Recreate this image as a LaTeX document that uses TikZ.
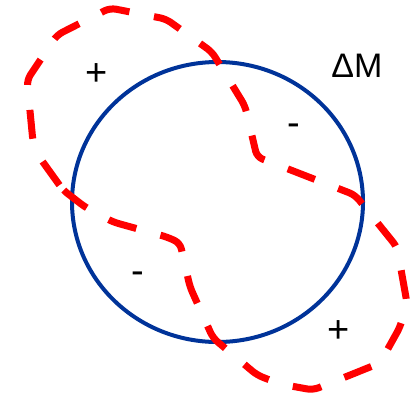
\documentclass[tikz,border=0pt]{standalone}
\usepackage{fontspec}
\setmainfont{Liberation Sans}
\definecolor{ringblue}{RGB}{0,51,153}
\definecolor{loopred}{RGB}{255,0,0}
\tikzset{
  ring/.style={draw=ringblue,line width=4pt},
  redloop/.style={draw=loopred,line width=7pt,dash pattern=on 29pt off 25pt,rounded corners=6pt},
  sign/.style={font=\fontsize{38}{38}\selectfont,inner sep=0pt}
}
\begin{document}
\begin{tikzpicture}[x=1pt,y=-1pt]
\useasboundingbox (0,0) rectangle (417,392);
\draw[ring] (217.5,202) ellipse [x radius=145.5, y radius=140];
\draw[redloop] (63,190) -- (40,158) -- (33,142) -- (27,80) -- (57,35) -- (110,8) -- (166,19) -- (212,52) -- (245,106) -- (257,157) -- (283,167) -- (355,195) -- (397,247) -- (407,303) -- (400,327) -- (380,363) -- (313,390) -- (280,384) -- (257,375) -- (213,338) -- (190,287) -- (180,243) -- (167,237) -- (113,222) -- (85,207) -- cycle;
\node[sign] (p1) at (97,75) {+};
\node[sign] (m1) at (294,130) {-};
\node[sign] (m2) at (138,278) {-};
\node[sign] (p2) at (339,332) {+};
\node[inner sep=0pt,font=\fontsize{34}{34}\selectfont] (dm) at (357,66) {ΔM};
\end{tikzpicture}
\end{document}
